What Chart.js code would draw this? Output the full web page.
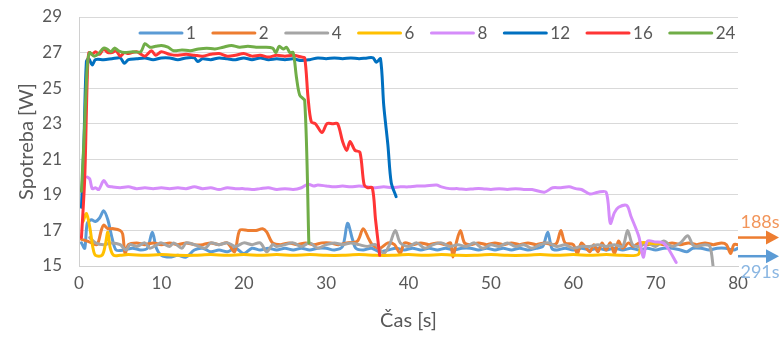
<!DOCTYPE html>
<html>
<head>
<meta charset="utf-8">
<script src="https://cdn.jsdelivr.net/npm/chart.js@4.4.1/dist/chart.umd.min.js"></script>
<style>
    html, body { margin: 0; padding: 0; background: #fff; }
</style>
</head>
<body>
<canvas id="powerChart" width="784" height="340"></canvas>
<script>
// measured consumption [t (s), P (W)] per thread count
const s1 = [[0.3,16.3],[0.7,16.0],[1.0,17.4],[1.5,17.6],[2.0,17.5],[2.5,17.7],[3.0,18.1],[3.5,17.6],[4.0,16.6],[4.5,15.9],[5.5,15.9],[6.5,16.0],[7.5,15.9],[8.3,16.0],[8.9,16.9],[9.4,16.0],[10,15.6],[11,15.5],[12,15.6],[13,15.5],[14,15.9],[15,16.0],[16,15.8],[17,15.9],[18,15.8],[19,16.0],[20,15.7],[21,16.0],[22,15.9],[23,16.0],[24,15.9],[25,16.0],[26,15.9],[27,16.0],[28,15.9],[29,16.0],[30,16.0],[31,15.9],[32,16.1],[32.6,17.4],[33.2,16.5],[33.6,16.0],[34.5,15.9],[35.5,16.0],[36.5,15.8],[37.5,15.9],[38.5,16.0],[39.5,15.9],[40.5,16.0],[41.5,15.9],[42.5,16.0],[43.5,15.9],[44.5,16.0],[45.5,15.9],[46.5,16.0],[47.5,16.0],[48.5,15.9],[49.5,16.0],[50.5,15.9],[51.5,16.0],[52.5,15.9],[53.5,16.0],[54.5,15.9],[55.5,16.0],[56.3,16.1],[56.9,16.9],[57.4,16.0],[58,15.9],[59,16.0],[60,15.9],[61,16.0],[62,15.9],[63,16.0],[64,15.9],[65,16.0],[66,15.9],[67,16.0],[68,15.9],[69,16.0],[70,15.9],[71,16.0],[72,16.0],[73,15.9],[73.8,15.8],[74.5,16.0],[75.5,16.0],[76.5,15.9],[77.5,16.0],[78.5,16.0],[79.5,15.9],[80,16.0]];
const s2 = [[0.3,16.5],[1.0,16.4],[1.5,16.3],[2.2,16.2],[2.7,17.0],[3.0,17.3],[3.5,17.1],[4.2,17.1],[5.0,17.0],[5.3,16.8],[5.6,15.7],[6.0,16.2],[7,16.3],[8,16.2],[9,16.3],[10,16.2],[11,16.3],[12,16.2],[13,16.3],[14,16.2],[15,16.2],[16,16.3],[17,16.2],[18,16.3],[18.9,15.8],[19.5,17.0],[20.5,17.0],[21.5,17.0],[22.3,17.1],[22.8,16.9],[23.5,16.3],[24.5,16.2],[25.5,16.3],[26.5,16.2],[27.5,16.3],[28.5,16.2],[29.5,16.3],[30.5,16.3],[31.5,16.2],[32.5,16.3],[33.8,16.4],[34.5,17.1],[35.2,16.5],[35.6,16.2],[36.5,16.0],[37.5,16.3],[38.3,16.2],[39,15.7],[39.5,16.3],[40.5,16.2],[41.5,16.3],[42.5,16.2],[43.5,16.3],[44.5,16.2],[45.1,16.3],[45.4,15.5],[45.8,16.3],[46.3,17.0],[46.8,16.3],[47.5,16.2],[48.5,16.3],[49.5,16.2],[50.5,16.3],[51.5,16.2],[52.5,16.3],[53.5,16.2],[54.5,16.3],[55.5,16.2],[56.5,16.3],[57.5,16.2],[58.0,16.3],[58.5,17.0],[59,16.3],[60,16.2],[60.5,15.7],[61,16.3],[62,15.8],[62.5,16.2],[63,15.8],[63.5,16.3],[64,15.9],[64.5,16.3],[65,15.7],[65.5,16.4],[66,16.0],[66.7,16.3],[67.3,16.1],[68,16.3],[69,16.2],[70,16.3],[71,16.2],[72,16.3],[73,16.2],[74,16.3],[75,16.2],[76,16.3],[77,16.2],[78,16.3],[78.6,16.2],[79.1,15.7],[79.5,16.2],[80,16.2]];
const s4 = [[1.3,16.6],[2,16.3],[3,16.2],[4,16.3],[5,16.2],[5.7,15.9],[6.2,16.2],[7,16.1],[8,16.3],[8.6,16.0],[9.5,16.2],[10,16.3],[11,16.1],[11.5,16.3],[12.5,16.0],[13,16.3],[14,16.2],[15.3,16.0],[16,16.3],[17,16.2],[18,16.3],[19,16.1],[20,16.3],[21,16.2],[22,16.3],[22.8,15.8],[23.5,16.2],[24,16.1],[25,16.2],[26,16.3],[27,16.1],[28,16.3],[29,16.0],[30,16.2],[31,16.3],[32,16.2],[33,16.3],[34,16.2],[35,16.1],[36,16.2],[37,15.7],[37.7,16.2],[38.4,17.0],[39,16.3],[40,16.1],[41,16.3],[42,16.0],[43,16.2],[44,16.3],[45,16.1],[46,16.2],[47,16.1],[48,16.3],[49,16.0],[50,16.2],[51,16.1],[52,16.3],[53,16.1],[54,16.2],[55,16.0],[56,16.2],[57,16.3],[58,16.1],[59,16.2],[60,16.0],[61,16.1],[62,16.1],[63,16.2],[64,16.1],[65,16.2],[66,16.1],[66.6,17.0],[67.2,16.2],[68,16.1],[69,16.3],[70,16.1],[71,16.4],[72,16.1],[73,16.3],[73.9,16.7],[74.5,16.2],[75,16.1],[76,16.2],[76.6,16.1],[77,14.9]];
const s6 = [[0.5,17.5],[0.9,17.95],[1.3,17.2],[1.7,16.0],[2.0,15.6],[2.8,15.6],[3.2,16.2],[3.5,16.9],[3.8,16.0],[4.2,15.6],[5,15.6],[6,15.65],[8,15.6],[10,15.65],[12,15.6],[14,15.6],[16,15.65],[18,15.6],[20,15.65],[22,15.6],[24,15.65],[26,15.6],[28,15.65],[30,15.6],[32,15.6],[34,15.65],[36,15.6],[38,15.6],[40,15.65],[42,15.6],[44,15.65],[46,15.6],[48,15.6],[50,15.65],[52,15.6],[54,15.6],[56,15.65],[58,15.6],[60,15.65],[62,15.6],[64,15.65],[66,15.6],[67.9,15.65],[68.3,16.3],[69,16.3],[70,16.25],[70.8,16.3]];
const s8 = [[1.0,20.0],[1.3,19.9],[1.6,19.35],[2.0,19.4],[2.4,19.3],[3.0,19.8],[3.5,19.5],[4,19.45],[5,19.4],[6,19.45],[7,19.35],[8,19.4],[9,19.35],[10,19.4],[11,19.35],[12,19.4],[13,19.35],[14,19.45],[15,19.35],[16,19.4],[17,19.3],[18,19.4],[19,19.35],[20,19.35],[21,19.3],[22,19.35],[23,19.4],[24,19.3],[25,19.35],[26,19.3],[27,19.4],[27.8,19.6],[28.5,19.5],[29,19.55],[30,19.5],[31,19.45],[32,19.5],[33,19.45],[34,19.5],[35,19.45],[36,19.4],[37,19.45],[38,19.4],[39,19.45],[40,19.45],[41,19.5],[42,19.5],[43.4,19.55],[44,19.45],[45,19.35],[46,19.35],[47,19.3],[48,19.35],[49,19.35],[50,19.3],[51,19.35],[52,19.3],[53,19.35],[54,19.3],[55,19.3],[56.5,19.15],[57.5,19.4],[58.5,19.4],[59.5,19.45],[60.3,19.35],[61,19.3],[62,19.05],[63,19.15],[64,19.15],[64.5,17.4],[65,18.0],[65.5,18.3],[66.5,18.4],[67,17.8],[67.7,17.0],[68,16.6],[68.5,15.5],[69,16.4],[70,16.35],[70.9,16.3],[71.5,16.0],[72.5,15.2]];
const s12 = [[0.3,18.3],[0.6,22.0],[0.9,26.5],[1.2,26.65],[1.6,26.3],[2.0,26.6],[3,26.6],[4,26.65],[5,26.7],[5.5,26.4],[6,26.6],[7,26.65],[8,26.7],[9,26.6],[10,26.7],[11,26.7],[12,26.6],[13,26.7],[14,26.7],[14.4,26.5],[15,26.65],[16,26.6],[17,26.7],[18,26.65],[19,26.6],[20,26.7],[21,26.6],[22,26.7],[23,26.6],[24,26.65],[25,26.6],[26,26.65],[27,26.55],[28,26.6],[29,26.7],[30,26.65],[31,26.7],[32,26.65],[33,26.7],[34,26.65],[35,26.7],[35.7,26.7],[36.1,26.45],[36.6,26.65],[37.0,24.0],[37.5,21.8],[37.9,19.7],[38.5,18.9]];
const s16 = [[0.3,16.6],[0.7,20.0],[1.0,25.5],[1.2,27.0],[1.6,26.9],[2.0,27.05],[2.5,26.9],[3.0,27.2],[3.5,27.0],[4.0,27.0],[4.5,27.1],[5.0,26.8],[5.5,27.0],[6.0,26.95],[7.0,27.05],[8.0,26.8],[8.8,27.1],[9.3,26.85],[10,27.05],[11,26.9],[12,26.85],[13,26.9],[14,26.85],[15,26.8],[16,26.9],[17,26.95],[18,26.8],[19,26.85],[20,26.95],[21,26.8],[22,26.85],[23,26.75],[24,26.85],[25,26.8],[26,26.85],[27,26.75],[27.4,26.7],[27.8,24.5],[28.2,23.1],[28.7,23.0],[29.5,22.5],[30.1,23.0],[30.8,23.0],[31.4,23.0],[32.0,22.0],[32.5,21.5],[32.9,22.0],[33.5,21.5],[34.1,21.4],[34.6,19.6],[35.0,19.4],[35.6,19.4],[36.0,17.6],[36.5,15.6]];
const s24 = [[0.3,19.2],[0.6,22.0],[1.0,26.2],[1.3,27.0],[1.8,26.8],[2.3,26.9],[3.0,27.25],[3.4,27.2],[3.9,27.05],[4.3,27.25],[4.8,27.1],[5.5,27.0],[6.5,27.05],[7.5,27.05],[8.0,27.5],[8.6,27.3],[9.3,27.35],[10,27.4],[10.8,27.3],[11.5,27.1],[12.5,27.15],[13.5,27.1],[14.5,27.2],[15.5,27.25],[16.5,27.2],[17.5,27.3],[18.5,27.4],[19.5,27.3],[20.5,27.35],[21.5,27.3],[22.5,27.3],[23.5,27.25],[23.9,27.0],[24.3,27.35],[24.8,27.2],[25.2,27.3],[25.6,27.0],[26.0,27.0],[26.4,25.6],[26.8,24.6],[27.4,24.3],[27.9,16.3]];

const seriesLabels = ['1', '2', '4', '6', '8', '12', '16', '24'];
const seriesData = [s1, s2, s4, s6, s8, s12, s16, s24];
const seriesColors = ['#5B9BD5', '#ED7D31', '#A5A5A5', '#FFC000', '#D58CFA', '#0070C0', '#FF3535', '#70AD47'];

const xTickValues = [0, 10, 20, 30, 40, 50, 60, 70, 80];
const yTickValues = [15, 17, 19, 21, 23, 25, 27, 29];

// total run times of the runs that go past the axis
const arrowTexts = ['188s', '291s'];
const arrowLevels = [16.6, 15.55];
const arrowColors = ['#ED7D31', '#5B9BD5'];
const arrowTextColors = ['#F2955A', '#8AB6E2'];

const FONT = 'Lato';
const TEXT = '#595959';

// legend row inside the plot top + run-time arrows on the right
const overlayPlugin = {
    id: 'overlay',
    afterDraw(chart) {
        const ctx = chart.ctx;
        const area = chart.chartArea;
        ctx.save();

        ctx.font = '17px ' + FONT;
        ctx.textBaseline = 'middle';
        ctx.textAlign = 'left';
        let x = area.left + 61;
        const y = area.top + 16;
        chart.data.datasets.forEach(ds => {
            ctx.strokeStyle = ds.borderColor;
            ctx.lineWidth = 3;
            ctx.lineCap = 'round';
            ctx.beginPath();
            ctx.moveTo(x, y);
            ctx.lineTo(x + 42, y);
            ctx.stroke();
            ctx.fillStyle = TEXT;
            ctx.fillText(ds.label, x + 46, y + 1);
            x += 42 + 4 + ctx.measureText(ds.label).width + 17;
        });

        const yScale = chart.scales.y;
        ctx.font = '18px ' + FONT;
        ctx.textAlign = 'center';
        arrowLevels.forEach((lvl, i) => {
            const ay = yScale.getPixelForValue(lvl);
            const x0 = area.right;
            const x1 = area.right + 41;
            ctx.strokeStyle = arrowColors[i];
            ctx.fillStyle = arrowColors[i];
            ctx.lineWidth = 2.5;
            ctx.lineCap = 'butt';
            ctx.beginPath();
            ctx.moveTo(x0, ay);
            ctx.lineTo(x1 - 10, ay);
            ctx.stroke();
            ctx.beginPath();
            ctx.moveTo(x1, ay);
            ctx.lineTo(x1 - 13, ay - 7);
            ctx.lineTo(x1 - 13, ay + 7);
            ctx.closePath();
            ctx.fill();
            ctx.fillStyle = arrowTextColors[i];
            ctx.fillText(arrowTexts[i], area.right + 22, ay + (i === 0 ? -15 : 16));
        });

        ctx.restore();
    }
};

const datasets = seriesData.map((pts, i) => ({
    label: seriesLabels[i],
    data: pts.map(p => ({ x: p[0], y: p[1] })),
    borderColor: seriesColors[i],
    backgroundColor: seriesColors[i],
    order: seriesData.length - i
}));

new Chart(document.getElementById('powerChart'), {
    type: 'line',
    data: { datasets },
    plugins: [overlayPlugin],
    options: {
        responsive: false,
        animation: false,
        devicePixelRatio: 1,
        layout: { padding: { top: 17, right: 46, left: 10, bottom: 4 } },
        plugins: {
            legend: { display: false },
            tooltip: { enabled: false }
        },
        elements: {
            point: { radius: 0 },
            line: { borderWidth: 3, tension: 0.3, borderCapStyle: 'round', borderJoinStyle: 'round' }
        },
        scales: {
            x: {
                type: 'linear',
                min: 0,
                max: 80,
                afterBuildTicks: s => { s.ticks = xTickValues.map(v => ({ value: v })); },
                afterFit: s => { s.height = 340 - 266 - 4; },
                grid: { display: false, drawTicks: false },
                border: { display: true, color: '#D0D0D0', width: 1 },
                ticks: { color: TEXT, font: { family: FONT, size: 17 }, padding: 7, maxRotation: 0 },
                title: { display: true, text: 'Čas [s]', color: TEXT, font: { family: FONT, size: 20 }, padding: { top: 0, bottom: 3 } }
            },
            y: {
                min: 15,
                max: 29,
                afterBuildTicks: s => { s.ticks = yTickValues.map(v => ({ value: v })); },
                // keep the label gap from widening the plot's top/bottom margins
                afterFit: s => { s.width = 79 - 10; s.paddingTop = 0; s.paddingBottom = 0; },
                grid: { color: '#D9D9D9', drawTicks: false },
                border: { display: true, color: '#D0D0D0', width: 1 },
                ticks: { color: TEXT, font: { family: FONT, size: 17 }, padding: 17 },
                title: { display: true, text: 'Spotreba [W]', color: TEXT, font: { family: FONT, size: 20 }, padding: { top: 5, bottom: 0 } }
            }
        }
    }
});
</script>
</body>
</html>
